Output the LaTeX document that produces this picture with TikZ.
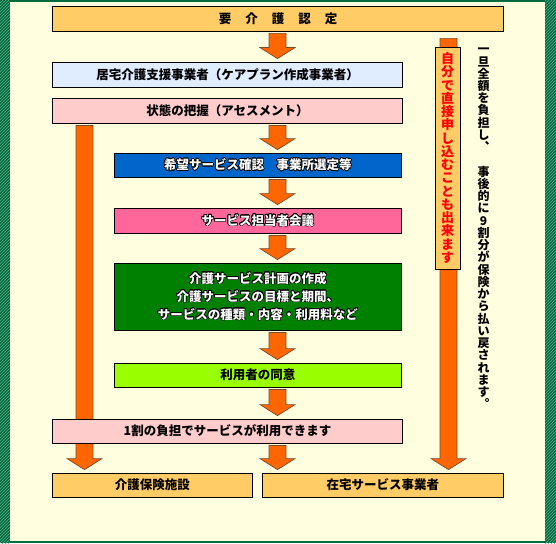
\documentclass[tikz,border=0pt]{standalone}
\usepackage{fontspec}
\usepackage{xcolor}
\usepackage{tikz}
\usepackage{contour}
\usetikzlibrary{positioning,calc,patterns,backgrounds}
\newfontfamily\jp{Noto Sans CJK JP}
\definecolor{FrameGreen}{HTML}{006B3F}
\definecolor{HatchGreen}{HTML}{5FAF8A}
\definecolor{PaperBg}{HTML}{FFFFE0}
\definecolor{BoxGold}{HTML}{FFCC66}
\definecolor{BoxSky}{HTML}{E0ECFF}
\definecolor{BoxRose}{HTML}{FFCCCC}
\definecolor{BoxBlue}{HTML}{0066CC}
\definecolor{BoxPink}{HTML}{FF6699}
\definecolor{BoxGreen}{HTML}{008000}
\definecolor{BoxLime}{HTML}{99FF00}
\definecolor{ArrowOrange}{HTML}{FF6600}
\definecolor{ArrowEdge}{HTML}{7A4A2A}
\contourlength{0.6pt}
\pgfdeclarelayer{flow}
\pgfsetlayers{background,flow,main}
% block arrow: #2 column, #3 from node, #4 to node, #1 gap below #3
\newcommand{\flowarrow}[4][2pt]{%
  \path (#3.south -| #2) coordinate (fa-s) (#4.north -| #2) coordinate (fa-t);
  \draw[blockarrow] ($(fa-s)+(-8.5pt,-#1)$) -- ($(fa-t)+(-8.5pt,14pt)$)
    -- ($(fa-t)+(-17.5pt,14pt)$) -- ($(fa-t)+(0,3pt)$) -- ($(fa-t)+(17.5pt,14pt)$)
    -- ($(fa-t)+(8.5pt,14pt)$) -- ($(fa-s)+(8.5pt,-#1)$) -- cycle;}
% top-to-bottom text, one character per line
\newcommand{\tate}[1]{\vbox{\baselineskip=1.02em\lineskiplimit=-\maxdimen\tateloop#1\relax}}
\def\tateloop#1{\ifx\relax#1\else
  \hbox to 1em{\vrule height .88em depth .12em width 0pt\hss#1\hss}\expandafter\tateloop\fi}

\begin{document}
\begin{tikzpicture}[x=1pt,y=-1pt,
    every node/.style={font=\jp\bfseries\fontsize{12.5}{18}\selectfont},
    box/.style={draw=black, line width=0.8pt, minimum height=25pt, inner sep=0pt,
      align=center, text=black},
    darkbox/.style={box, text=white},
    blockarrow/.style={fill=ArrowOrange, draw=ArrowEdge, line width=0.7pt, line join=miter}]
  \useasboundingbox (0,0) rectangle (556,543);
  \begin{scope}[on background layer]
    \fill[FrameGreen] (0,0) rectangle (556,543);
    \fill[pattern=north east lines, pattern color=HatchGreen] (0,0) rectangle (9.5,543);
    \fill[pattern=north east lines, pattern color=HatchGreen] (545,0) rectangle (556,543);
    \fill[PaperBg] (9.5,2) rectangle (545,541);
  \end{scope}

  \node[box, fill=BoxGold, minimum width=451pt] (cert) at (278,18.5)
    {要\kern14pt 介\kern14pt 護\kern14pt 認\kern14pt 定};
  \node[box, fill=BoxSky, minimum width=350pt] (plan) at (227.5,74.5)
    {居宅介護支援事業者（ケアプラン作成事業者）};
  \node[box, fill=BoxRose, minimum width=350pt] (assess) at (227.5,110.5)
    {状態の把握（アセスメント）};
  \node[darkbox, fill=BoxBlue, minimum width=287.5pt, minimum height=24pt] (wish) at (257.75,165)
    {\contour{black}{希望サービス確認　事業所選定等}};
  \node[darkbox, fill=BoxPink, minimum width=287.5pt] (meeting) at (257.75,220.5)
    {\contour{black}{サービス担当者会議}};
  \node[darkbox, fill=BoxGreen, minimum width=287.5pt, minimum height=67pt] (careplan) at (257.75,296.5)
    {\contour{black}{介護サービス計画の作成}\\
     \contour{black}{介護サービスの目標と期間、}\\
     \contour{black}{サービスの種類・内容・利用料など}};
  \node[box, fill=BoxLime, minimum width=287.5pt, minimum height=24pt] (agree) at (257.75,375)
    {利用者の同意};
  \node[box, fill=BoxRose, minimum width=350pt, minimum height=24pt] (share) at (227.5,431)
    {1割の負担でサービスが利用できます};
  \node[box, fill=BoxGold, minimum width=199.5pt, minimum height=24pt] (facility) at (152.25,485)
    {介護保険施設};
  \node[box, fill=BoxGold, minimum width=241.5pt, minimum height=24pt] (home) at (382.75,485)
    {在宅サービス事業者};

  % vertical notes on the right
  \node[box, fill=BoxGold, minimum width=25pt, minimum height=222pt, text=red,
    font=\jp\bfseries\fontsize{13}{13}\selectfont] (direct) at (447.5,158)
    {\tate{自分で直接申し込むことも出来ます}};
  \node[anchor=north, inner sep=0pt,
    font=\jp\bfseries\fontsize{12}{12}\selectfont] (refund) at (483.5,43)
    {\tate{一旦全額を負担し︑　事後的に9割分が保険から払い戻されます︒}};

  \coordinate (midcol) at (277.5,0);
  \coordinate (leftcol) at (84.5,0);
  \coordinate (rightcol) at (448.5,0);

  \begin{pgfonlayer}{flow}
    \flowarrow{midcol}{cert}{plan}
    \flowarrow{midcol}{assess}{wish}
    \flowarrow{midcol}{wish}{meeting}
    \flowarrow{midcol}{meeting}{careplan}
    \flowarrow{midcol}{careplan}{agree}
    \flowarrow{midcol}{agree}{share}
    \flowarrow{midcol}{share}{home}
    \flowarrow{leftcol}{assess}{facility}
    \flowarrow[7pt]{rightcol}{cert}{home}
  \end{pgfonlayer}
\end{tikzpicture}
\end{document}
